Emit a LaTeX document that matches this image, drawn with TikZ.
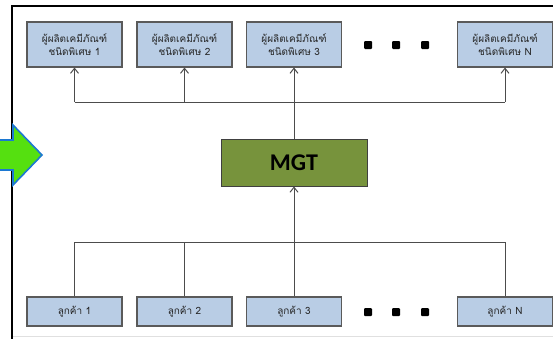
\documentclass[tikz,border=0pt]{standalone}
\usepackage{fontspec}
\setmainfont{Carlito}
\newfontfamily\thaifont[Script=Thai]{Loma}
\usetikzlibrary{arrows.meta, positioning, calc}
\definecolor{BoxBlue}{HTML}{B9CDE5}
\definecolor{BoxEdge}{HTML}{5A5A5A}
\definecolor{MgtGreen}{HTML}{77933C}
\definecolor{FlowGreen}{HTML}{55E010}
\definecolor{FlowEdge}{HTML}{1C78D2}

\begin{document}
\begin{tikzpicture}[
    x=1pt, y=-1pt,
    every node/.style={font=\thaifont\fontsize{10}{12.5}\selectfont, text=black!85},
    party/.style={rectangle, draw=BoxEdge, line width=1.1pt, fill=BoxBlue, minimum width=95pt, align=center, inner sep=0pt},
    prod/.style={party, minimum height=45pt},
    cust/.style={party, minimum height=29pt},
    mgtbox/.style={rectangle, draw=black!75, line width=0.9pt, fill=MgtGreen, minimum width=146pt, minimum height=47pt, font=\bfseries\fontsize{24}{26}\selectfont, text=black},
    link/.style={draw=black!70, line width=1pt},
    arrow/.style={link, -{Straight Barb[length=5pt, width=8pt]}},
    dot/.style={rectangle, fill=black, rounded corners=1pt, minimum size=8pt, inner sep=0pt}
  ]
    \useasboundingbox (0,0) rectangle (553,338);
    \clip (0,0) rectangle (553,338);

    % frame
    \draw[line width=2.5pt] (12,339) -- (12,6) -- (560,6);
    \draw[black!12, line width=0.6pt] (13,336.5) -- (553,336.5);

    % incoming flow arrow
    \draw[FlowEdge, fill=FlowGreen, line width=1.6pt]
      (-5,140) -- (13,140) -- (13,125) -- (42,155) -- (13,185) -- (13,170) -- (-5,170) -- cycle;

    % producers
    \node[prod] (prod1) at (74.5,44.5) {ผู้ผลิตเคมีภัณฑ์\\ชนิดพิเศษ 1};
    \node[prod] (prod2) at (184.5,44.5) {ผู้ผลิตเคมีภัณฑ์\\ชนิดพิเศษ 2};
    \node[prod] (prod3) at (294,44.5) {ผู้ผลิตเคมีภัณฑ์\\ชนิดพิเศษ 3};
    \node[prod] (prodN) at (505,44.5) {ผู้ผลิตเคมีภัณฑ์\\ชนิดพิเศษ N};
    \node[dot] (pdot1) at (368,45) {};
    \node[dot] (pdot2) at (396,45) {};
    \node[dot] (pdot3) at (425,45) {};

    % manager
    \node[mgtbox] (mgt) at (294,162.5) {MGT};

    % customers
    \node[cust] (cust1) at (74.5,311.5) {ลูกค้า 1};
    \node[cust] (cust2) at (184.5,311.5) {ลูกค้า 2};
    \node[cust] (cust3) at (294,311.5) {ลูกค้า 3};
    \node[cust] (custN) at (505,311.5) {ลูกค้า N};
    \node[dot] (cdot1) at (368,312) {};
    \node[dot] (cdot2) at (396,312) {};
    \node[dot] (cdot3) at (425,312) {};

    % distribution bus above the manager
    \coordinate (topbus) at (294,102);
    \draw[link] (mgt.north) -- (topbus);
    \draw[link] (prod1.south |- topbus) -- (prodN.south |- topbus);
    \foreach \p in {prod1, prod2, prod3, prodN}
      \draw[arrow] (\p.south |- topbus) -- (\p.south);

    % collection bus below the manager
    \coordinate (lowbus) at (294,242);
    \draw[link] (cust1.north |- lowbus) -- (custN.north |- lowbus);
    \foreach \c in {cust1, cust2, cust3, custN}
      \draw[link] (\c.north) -- (\c.north |- lowbus);
    \draw[arrow] (lowbus) -- (mgt.south);
  \end{tikzpicture}
\end{document}
